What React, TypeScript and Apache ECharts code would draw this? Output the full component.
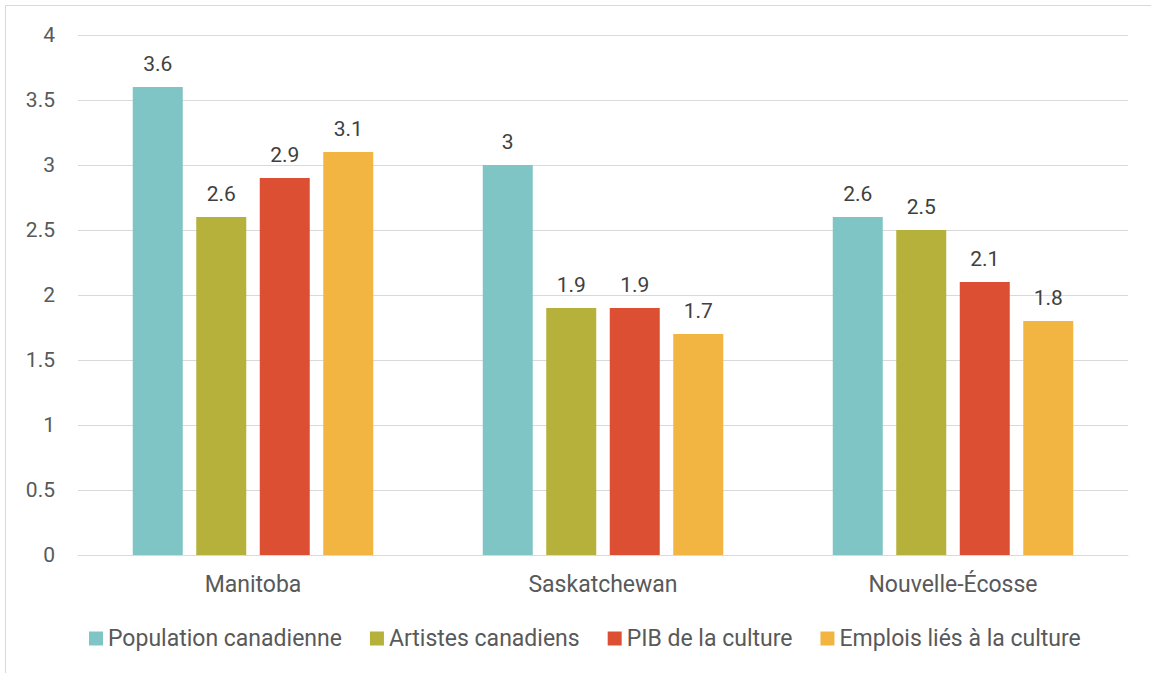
import React, { useEffect, useRef } from "react";
import * as echarts from "echarts";

const categories = ["Manitoba", "Saskatchewan", "Nouvelle-Écosse"];
const seriesNames = [
  "Population canadienne",
  "Artistes canadiens",
  "PIB de la culture",
  "Emplois liés à la culture",
];
const population = [3.6, 3.0, 2.6];
const artistes = [2.6, 1.9, 2.5];
const pib = [2.9, 1.9, 2.1];
const emplois = [3.1, 1.7, 1.8];
const colors = ["#7fc5c5", "#b5b13a", "#dd4f33", "#f2b541"];

const FONT = "Roboto, 'Noto Sans', sans-serif";
const TEXT = "#595959";

export default function App() {
  const ref = useRef<HTMLDivElement>(null);
  useEffect(() => {
    if (!ref.current) return;
    const chart = echarts.init(ref.current, null, { renderer: "svg" });
    const dataSets = [population, artistes, pib, emplois];
    chart.setOption({
      animation: false,
      backgroundColor: "#ffffff",
      textStyle: { fontFamily: FONT },
      graphic: [
        {
          type: "rect",
          shape: { x: 5.5, y: 5.5, width: 1200, height: 700 },
          style: { fill: "none", stroke: "#d9d9d9", lineWidth: 1 },
          silent: true,
          z: -1,
        },
      ],
      grid: { left: 78, right: 23, top: 35, bottom: 118, containLabel: false },
      legend: {
        top: 622,
        left: 84,
        itemWidth: 14,
        itemHeight: 14,
        itemGap: 28,
        icon: "rect",
        textStyle: { fontSize: 23, color: TEXT, fontFamily: FONT },
        data: seriesNames,
      },
      xAxis: {
        type: "category",
        data: categories,
        axisTick: { show: false },
        axisLine: { lineStyle: { color: "#d9d9d9", width: 1 } },
        axisLabel: { fontSize: 23, color: TEXT, margin: 18, fontFamily: FONT },
      },
      yAxis: {
        type: "value",
        min: 0,
        max: 4,
        interval: 0.5,
        axisLine: { show: false },
        axisTick: { show: false },
        splitLine: { lineStyle: { color: "#d9d9d9", width: 1 } },
        axisLabel: { fontSize: 21, color: TEXT, margin: 23, fontFamily: FONT },
      },
      series: seriesNames.map((name, i) => ({
        name,
        type: "bar",
        data: dataSets[i],
        barWidth: 50,
        barGap: "27%",
        barCategoryGap: "31.4%",
        itemStyle: { color: colors[i] },
        label: {
          show: true,
          position: "top",
          distance: 13,
          fontSize: 21,
          color: "#404040",
          fontFamily: FONT,
        },
      })),
    });
    return () => chart.dispose();
  }, []);
  return (
    <div
      ref={ref}
      style={{ position: "fixed", left: 0, top: 0, width: 1151, height: 673 }}
    />
  );
}
